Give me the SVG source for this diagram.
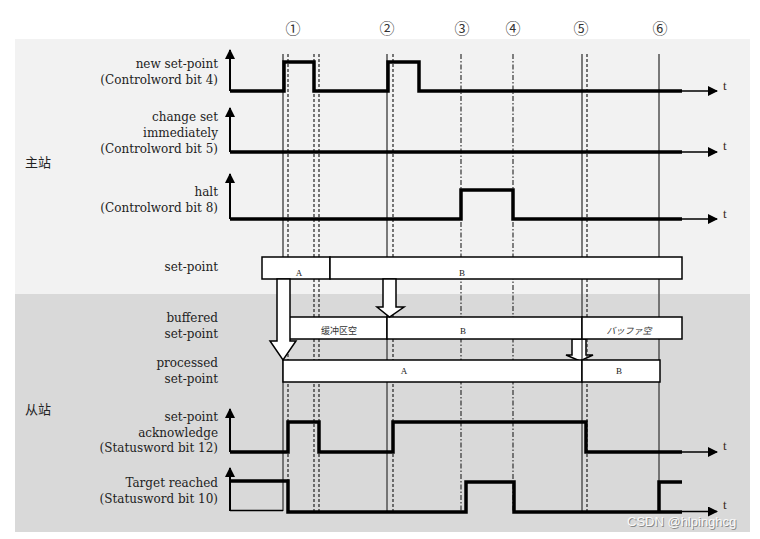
<svg xmlns="http://www.w3.org/2000/svg" width="760" height="539" viewBox="0 0 760 539">
<defs>
<style>
.lbl{font-family:"DejaVu Serif","Liberation Serif",serif;font-size:12px;fill:#222;text-anchor:end}
.cjk{font-family:"Noto Sans CJK SC","Noto Sans CJK JP",sans-serif;font-size:13px;fill:#222}
.num{font-family:"Noto Sans CJK JP","DejaVu Sans",sans-serif;font-size:15px;fill:#333;text-anchor:middle}
.t{font-family:"Liberation Serif",serif;font-size:13px;fill:#3a2a1a}
.sig{fill:none;stroke:#000;stroke-width:3.5;stroke-linejoin:miter}
.axis{fill:none;stroke:#000;stroke-width:2}
.thin{fill:none;stroke:#000;stroke-width:1.5}
.solid{stroke:#5a5a5a;stroke-width:1.6}
.dash{stroke:#222;stroke-width:1.2;stroke-dasharray:3 2}
.dashdot{stroke:#222;stroke-width:1.1;stroke-dasharray:5 2 1.5 2}
.bar{fill:#fff;stroke:#000;stroke-width:1.5}
.bl{font-family:"Liberation Serif",serif;font-size:9px;fill:#222;text-anchor:middle}
.bc{font-family:"Noto Sans CJK SC","Noto Sans CJK JP",sans-serif;font-size:9px;fill:#333;text-anchor:middle}
.hollow{fill:#fff;stroke:#000;stroke-width:1.5;stroke-linejoin:miter}
</style>
<marker id="ah" viewBox="0 0 10 10" refX="9" refY="5" markerWidth="10" markerHeight="10" markerUnits="userSpaceOnUse" orient="auto">
<path d="M0,0 L10,5 L0,10 Z" fill="#000"/>
</marker>
</defs>
<rect x="0" y="0" width="760" height="539" fill="#fff"/>
<rect x="15" y="39" width="735" height="255" fill="#f2f2f2"/>
<rect x="15" y="294" width="735" height="238" fill="#d9d9d9"/>

<g id="connectors">
<polygon id="arrow3" class="hollow" points="572,339 586,339 586,355 593,355 580,361 566,355 572,355"/>
</g>

<g id="gridlines">
<line class="solid" x1="283" y1="54" x2="283" y2="511"/>
<line class="dash" x1="288" y1="54" x2="288" y2="511"/>
<line class="dash" x1="314" y1="54" x2="314" y2="511"/>
<line class="dash" x1="319" y1="54" x2="319" y2="511"/>
<line class="solid" x1="387" y1="54" x2="387" y2="511"/>
<line class="dash" x1="393" y1="54" x2="393" y2="511"/>
<line class="dashdot" x1="461" y1="54" x2="461" y2="511"/>
<line class="dashdot" x1="513" y1="54" x2="513" y2="511"/>
<line class="solid" x1="582" y1="54" x2="582" y2="511"/>
<line class="dash" x1="587" y1="54" x2="587" y2="511"/>
<line class="solid" x1="659" y1="54" x2="659" y2="511"/>
</g>

<g id="numbers">
<text class="num" x="293" y="34">①</text>
<text class="num" x="387" y="34">②</text>
<text class="num" x="462" y="34">③</text>
<text class="num" x="513" y="34">④</text>
<text class="num" x="581" y="34">⑤</text>
<text class="num" x="660" y="34">⑥</text>
</g>

<g id="station-labels">
<text class="cjk" x="25" y="167">主站</text>
<text class="cjk" x="25" y="414">从站</text>
</g>

<g id="sig-new-setpoint">
<line class="axis" x1="230" y1="91" x2="230" y2="50" marker-end="url(#ah)"/>
<polyline class="sig" points="230,91 284,91 284,62 314,62 314,91 388,91 388,62 419,62 419,91 682,91"/>
<line class="thin" x1="682" y1="91" x2="717" y2="91" marker-end="url(#ah)"/>
<text class="t" x="723" y="90">t</text>
<text class="lbl" x="218" y="68">new set-point</text>
<text class="lbl" x="218" y="84">(Controlword bit 4)</text>
</g>

<g id="sig-change-set">
<line class="axis" x1="230" y1="152" x2="230" y2="108" marker-end="url(#ah)"/>
<polyline class="sig" points="230,152 682,152"/>
<line class="thin" x1="682" y1="152" x2="717" y2="152" marker-end="url(#ah)"/>
<text class="t" x="723" y="150">t</text>
<text class="lbl" x="218" y="121">change set</text>
<text class="lbl" x="218" y="137">immediately</text>
<text class="lbl" x="218" y="153">(Controlword bit 5)</text>
</g>

<g id="sig-halt">
<line class="axis" x1="230" y1="219" x2="230" y2="174" marker-end="url(#ah)"/>
<polyline class="sig" points="230,219 461,219 461,190 513,190 513,219 682,219"/>
<line class="thin" x1="682" y1="219" x2="717" y2="219" marker-end="url(#ah)"/>
<text class="t" x="723" y="218">t</text>
<text class="lbl" x="218" y="196">halt</text>
<text class="lbl" x="218" y="212">(Controlword bit 8)</text>
</g>

<g id="sig-ack">
<line class="axis" x1="230" y1="452" x2="230" y2="409" marker-end="url(#ah)"/>
<polyline class="sig" points="230,452 288,452 288,422 319,422 319,452 393,452 393,422 586,422 586,452 682,452"/>
<line class="thin" x1="682" y1="452" x2="717" y2="452" marker-end="url(#ah)"/>
<text class="t" x="723" y="450">t</text>
<text class="lbl" x="218" y="421">set-point</text>
<text class="lbl" x="218" y="437">acknowledge</text>
<text class="lbl" x="218" y="452">(Statusword bit 12)</text>
</g>

<g id="sig-target">
<line class="axis" x1="230" y1="511" x2="230" y2="468" marker-end="url(#ah)"/>
<line class="thin" x1="230" y1="510.5" x2="283" y2="510.5"/>
<polyline class="sig" points="230,481 288,481 288,512 466,512 466,482 514,482 514,512 682,512"/>
<polyline class="sig" points="659,512 659,482 682,482"/>
<line class="thin" x1="682" y1="511.5" x2="717" y2="511.5" marker-end="url(#ah)"/>
<text class="t" x="723" y="509">t</text>
<text class="lbl" x="218" y="487">Target reached</text>
<text class="lbl" x="218" y="503">(Statusword bit 10)</text>
</g>

<g id="bar-setpoint">
<rect class="bar" x="262" y="257" width="68" height="22"/>
<rect class="bar" x="330" y="257" width="352" height="22"/>
<text class="bl" x="299" y="276">A</text>
<text class="bl" x="462" y="276">B</text>
<text class="lbl" x="218" y="271">set-point</text>
</g>

<g id="bar-buffered">
<rect class="bar" x="289" y="317" width="98" height="22"/>
<rect class="bar" x="387" y="317" width="195" height="22"/>
<rect class="bar" x="582" y="317" width="100" height="22"/>
<text class="bc" x="339" y="334">缓冲区空</text>
<text class="bl" x="463" y="334">B</text>
<text class="bc" x="629" y="334" font-style="italic">バッファ空</text>
<text class="lbl" x="218" y="322">buffered</text>
<text class="lbl" x="218" y="338">set-point</text>
</g>

<g id="bar-processed">
<rect class="bar" x="283" y="360" width="299" height="22"/>
<rect class="bar" x="582" y="360" width="78" height="22"/>
<text class="bl" x="404" y="374">A</text>
<text class="bl" x="619" y="374">B</text>
<text class="lbl" x="218" y="367">processed</text>
<text class="lbl" x="218" y="383">set-point</text>
</g>

<g id="connectors-top">
<polygon id="arrow1" class="hollow" points="277,279 290,279 290,341 296,341 283,360 270,341 277,341"/>
<polygon id="arrow2" class="hollow" points="383,279 396,279 396,307 404,307 389.5,317 377,307 383,307"/>
</g>

<g id="watermark">
<text x="628" y="527" font-family="Liberation Sans,Arial,sans-serif" font-size="13" fill="#888">CSDN @hlpinghcg</text>
<text x="627" y="526" font-family="Liberation Sans,Arial,sans-serif" font-size="13" fill="#fafafa">CSDN @hlpinghcg</text>
</g>
</svg>
